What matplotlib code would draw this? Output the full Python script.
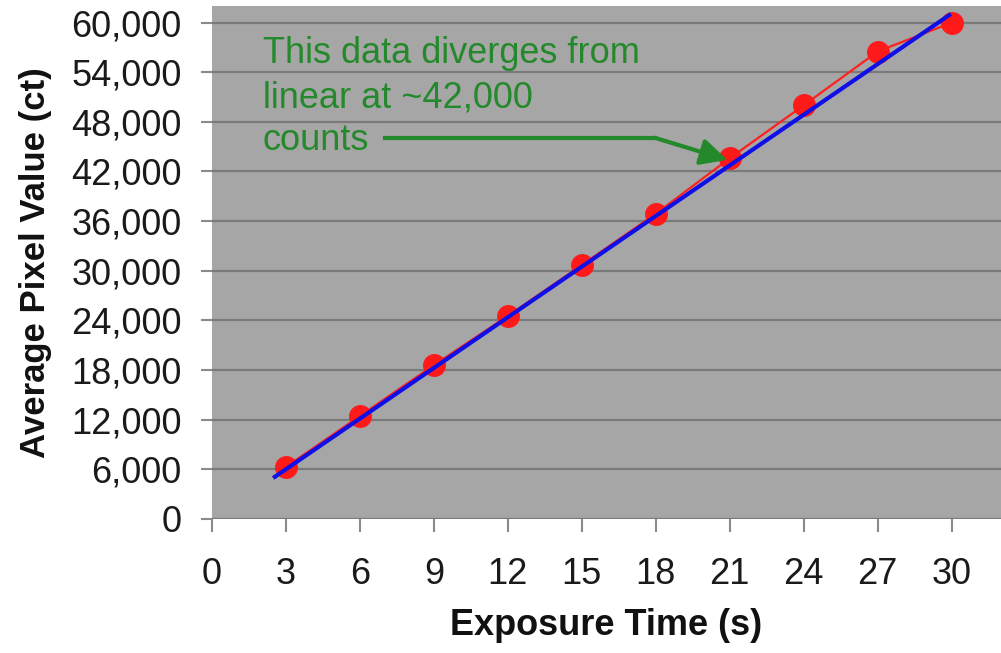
import matplotlib
matplotlib.use("Agg")
import matplotlib.pyplot as plt
from matplotlib.ticker import FuncFormatter

# Data
exposure_s = [3, 6, 9, 12, 15, 18, 21, 24, 27, 30]
pixel_ct = [6300, 12450, 18600, 24550, 30700, 36900, 43600, 50000, 56500, 60000]
fit_x = [2.55, 29.9]
fit_y = [5100, 60900]
x_ticks = [0, 3, 6, 9, 12, 15, 18, 21, 24, 27, 30]
y_ticks = [0, 6000, 12000, 18000, 24000, 30000, 36000, 42000, 48000, 54000, 60000]
note_lines = ["This data diverges from", "linear at ~42,000", "counts"]

plt.rcParams['font.family'] = ['Liberation Sans', 'DejaVu Sans']

fig = plt.figure(figsize=(10.01, 6.53), dpi=100)
ax = fig.add_axes([212/1001, (653-519)/653, 1 - 212/1001, (519-6)/653])
ax.set_facecolor('#a6a6a6')

ax.set_xlim(0, 32)
ax.set_ylim(0, 62000)
ax.set_xticks(x_ticks)
ax.set_yticks(y_ticks)
ax.yaxis.set_major_formatter(FuncFormatter(lambda v, p: f"{int(v):,}"))

ax.grid(axis='y', color='#7a7a7a', linewidth=1.6)
ax.set_axisbelow(True)
for s in ax.spines.values():
    s.set_visible(False)

ax.tick_params(axis='y', length=8, width=1.5, color='#8a8a8a', pad=14,
               labelsize=26, labelcolor='#1a1a1a')
ax.tick_params(axis='x', length=9, width=1.5, color='#8a8a8a', pad=18,
               labelsize=26, labelcolor='#1a1a1a')

ax.plot(exposure_s, pixel_ct, color='#ff2020', linewidth=1.6, zorder=3)
ax.plot(exposure_s, pixel_ct, 'o', color='#ff1a1a', markersize=15.5, zorder=3)
ax.plot(fit_x, fit_y, color='#1010e6', linewidth=3, zorder=4)

ax.set_xlabel("Exposure Time (s)", fontsize=26, fontweight='bold', labelpad=12, color='#111111')
ax.set_ylabel("Average Pixel Value (ct)", fontsize=25, fontweight='bold', labelpad=14, color='#111111')

green = '#24892a'
for line, yb in zip(note_lines, [55140, 49700, 44620]):
    ax.text(2.05, yb, line, fontsize=26, color=green, va='baseline', ha='left', zorder=5)
ax.plot([7.0, 17.96], [46070, 46070], color=green, linewidth=3, zorder=5)
ax.annotate("", xy=(20.9, 43400), xytext=(17.96, 46070),
            arrowprops=dict(arrowstyle='-|>,head_length=1.6,head_width=0.8',
                            color=green, lw=3, shrinkA=0, shrinkB=0), zorder=5)

fig.savefig("out.png", dpi=100)
